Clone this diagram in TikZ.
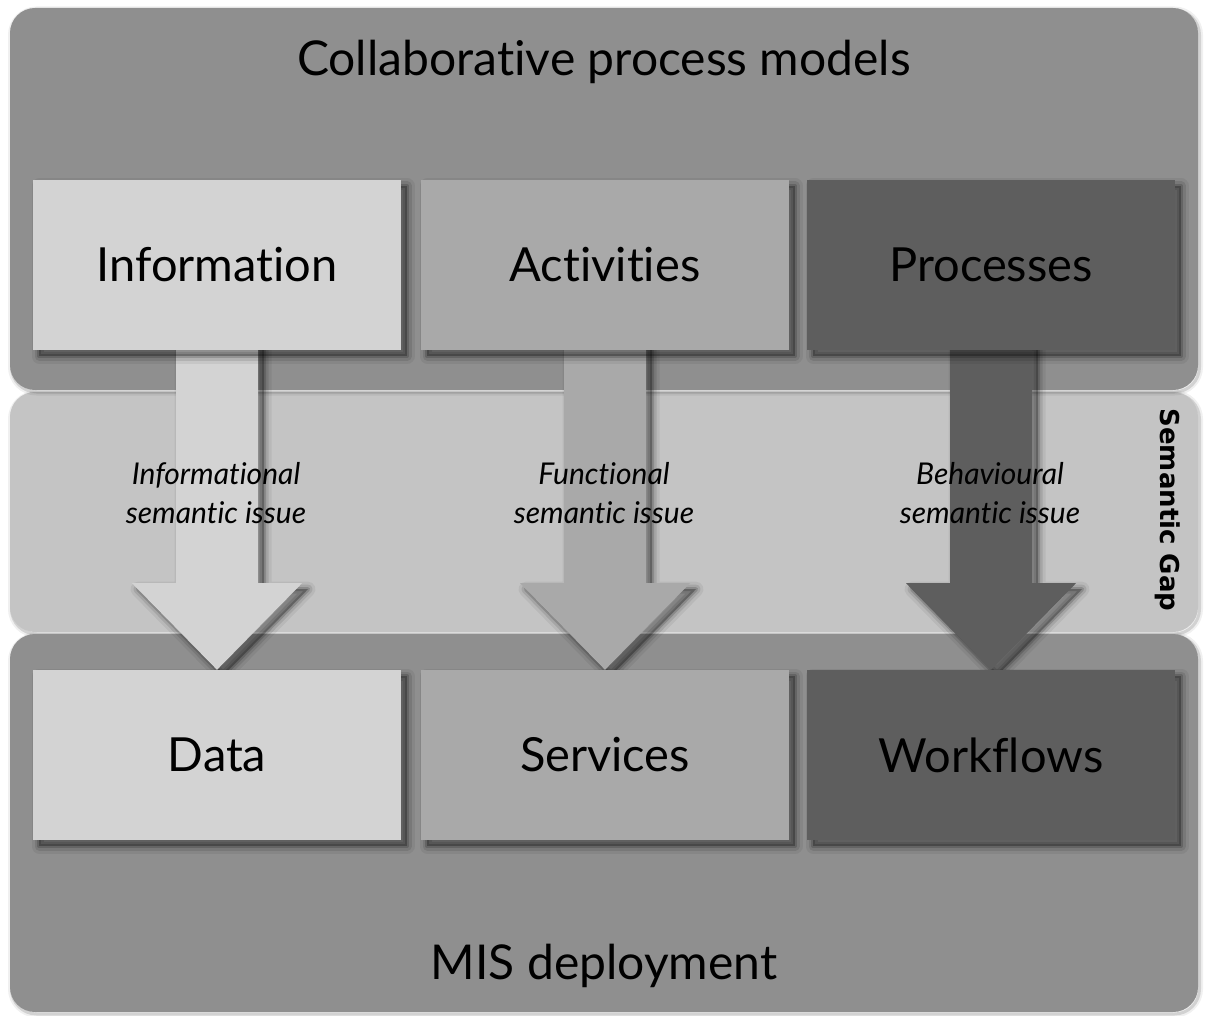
\documentclass[tikz,border=0pt]{standalone}
\usepackage{fontspec}
\setmainfont{Lato}[Ligatures=NoCommon]
\newfontfamily\gapfont{DejaVu Sans}
\usetikzlibrary{calc}
\pgfdeclarelayer{bg}\pgfdeclarelayer{mid}
\pgfsetlayers{bg,mid,main}
\definecolor{panelc}{HTML}{8F8F8F}
\definecolor{gapc}{HTML}{C4C4C4}
\definecolor{lightc}{HTML}{D3D3D3}
\definecolor{midc}{HTML}{A9A9A9}
\definecolor{darkc}{HTML}{5E5E5E}
\begin{document}
\begin{tikzpicture}[x=1pt,y=-1pt,
  softshadow/.style={
    preaction={fill=black, opacity=.28, transform canvas={shift={(#1,-#1)}}},
    preaction={draw=black, opacity=.16, line width=4pt, line join=round, transform canvas={shift={(#1,-#1)}}},
    preaction={draw=black, opacity=.10, line width=9pt, line join=round, transform canvas={shift={(#1,-#1)}}},
    preaction={draw=black, opacity=.06, line width=15pt, line join=round, transform canvas={shift={(#1,-#1)}}}},
  panelshadow/.style={
    preaction={draw=black, opacity=.12, line width=3pt, transform canvas={shift={(1.5pt,-2pt)}}},
    preaction={draw=black, opacity=.06, line width=7pt, transform canvas={shift={(1.5pt,-2pt)}}}},
  panel/.style={rounded corners=25pt, minimum width=1188pt, inner sep=0pt, panelshadow},
  box/.style={minimum width=368pt, minimum height=170pt, inner sep=0pt,
    font=\fontsize{47}{54}\selectfont, softshadow=6pt},
  arr/.style={softshadow=6pt},
  title/.style={font=\fontsize{48}{54}\selectfont, inner sep=0pt},
  lab/.style={font=\fontsize{30}{39}\selectfont\itshape, align=center, inner sep=0pt},
  gaptxt/.style={font=\fontsize{26}{30}\selectfont\gapfont\bfseries, inner sep=0pt}
]
\useasboundingbox (0,0) rectangle (1206,1016);

% panels
\begin{pgfonlayer}{bg}
\fill[white] (0,0) rectangle (1206,1016);
\node[panel, fill=gapc, minimum height=240pt] (gap) at (604,512) {};
\node[panel, fill=panelc, minimum height=382pt] (toppanel) at (604,199) {};
\node[panel, fill=panelc, minimum height=378pt] (botpanel) at (604,823) {};
\end{pgfonlayer}

% boxes
\node[box, fill=lightc] (info) at (217,265) {Information};
\node[box, fill=midc] (act) at (605,265) {Activities};
\node[box, fill=darkc] (proc) at (991,265) {Processes};
\node[box, fill=lightc] (data) at (217,755) {Data};
\node[box, fill=midc] (serv) at (605,755) {Services};
\node[box, fill=darkc] (work) at (991,755) {Workflows};

% block arrows
\begin{pgfonlayer}{mid}
\foreach \s/\t/\c in {info/data/lightc, act/serv/midc, proc/work/darkc}{
  \fill[arr, fill=\c] ($(\s.south)+(-41,-10)$) -- ($(\s.south)+(41,-10)$)
    -- ($(\s.south)+(41,233)$) -- ($(\s.south)+(85,233)$)
    -- (\t.north) -- ($(\s.south)+(-85,233)$)
    -- ($(\s.south)+(-41,233)$) -- cycle;
}
\end{pgfonlayer}

% texts
\node[title] (t1) at (604,62) {Collaborative process models};
\node[title] (t2) at (604,966) {MIS deployment};
\node[lab] (l1) at (216,493) {Informational\\semantic issue};
\node[lab] (l2) at (604,493) {Functional\\semantic issue};
\node[lab] (l3) at (990,493) {Behavioural\\semantic issue};
\node[gaptxt, rotate=-90] (sg) at (1168,510) {Semantic Gap};
\end{tikzpicture}
\end{document}
